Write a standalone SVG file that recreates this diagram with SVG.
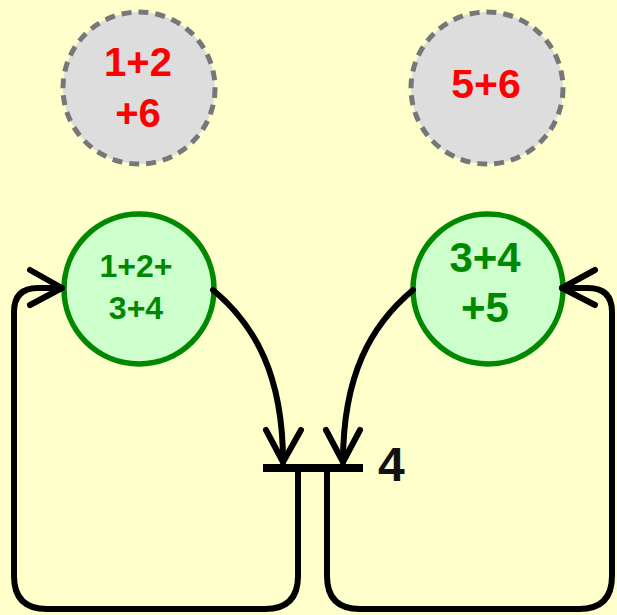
<svg xmlns="http://www.w3.org/2000/svg" width="617" height="615" viewBox="0 0 617 615">
<style>
.bg{fill:#FFFFCC}
.ghost{fill:#DDDDDD;stroke:#777777;stroke-width:5;stroke-dasharray:10 7}
.node{fill:#CCFFCC;stroke:#008800;stroke-width:5.5}
.red{fill:#FF0000;font-family:"Liberation Sans",Arial,sans-serif;font-weight:bold;text-anchor:middle}
.grn{fill:#008800;font-family:"Liberation Sans",Arial,sans-serif;font-weight:bold;text-anchor:middle}
.lbl{fill:#111111;font-family:"Liberation Sans",Arial,sans-serif;font-weight:bold;font-size:48px}
.edge{fill:none;stroke:#000000;stroke-width:6;stroke-linecap:round;stroke-linejoin:round}
.bar{stroke:#000000;stroke-width:8}
</style>
<rect class="bg" x="0" y="0" width="617" height="615"/>
<g id="ghost-left">
<circle class="ghost" cx="139" cy="88" r="76"/>
<text class="red" x="138" y="76" font-size="40">1+2</text>
<text class="red" x="138" y="127" font-size="40">+6</text>
</g>
<g id="ghost-right">
<circle class="ghost" cx="487" cy="88" r="76"/>
<text class="red" x="486" y="98" font-size="41">5+6</text>
</g>
<g id="node-left">
<circle class="node" cx="139" cy="289" r="75"/>
<text class="grn" x="136" y="277" font-size="32">1+2+</text>
<text class="grn" x="136" y="319" font-size="32">3+4</text>
</g>
<g id="node-right">
<circle class="node" cx="488" cy="289" r="75"/>
<text class="grn" x="485" y="272" font-size="42">3+4</text>
<text class="grn" x="485" y="322" font-size="42">+5</text>
</g>
<g id="transition">
<line class="bar" x1="263" y1="468" x2="363" y2="468"/>
<text class="lbl" x="378" y="481">4</text>
</g>
<g id="connectors">
<path class="edge" d="M213,290 C255,325 283,375 283,462"/>
<path class="edge" d="M266,430 L283,462 L301,430"/>
<path class="edge" d="M413,290 C371,325 343,375 343,462"/>
<path class="edge" d="M326,430 L343,462 L360,430"/>
<path class="edge" d="M298,470 V576 Q298,609 265,609 H47 Q14,609 14,576 V312 Q14,288 38,288 H62"/>
<path class="edge" d="M30,270 L62,288 L30,305"/>
<path class="edge" d="M327,470 V576 Q327,609 360,609 H579 Q612,609 612,576 V312 Q612,288 588,288 H562"/>
<path class="edge" d="M595,270 L562,288 L595,305"/>
</g>
</svg>
